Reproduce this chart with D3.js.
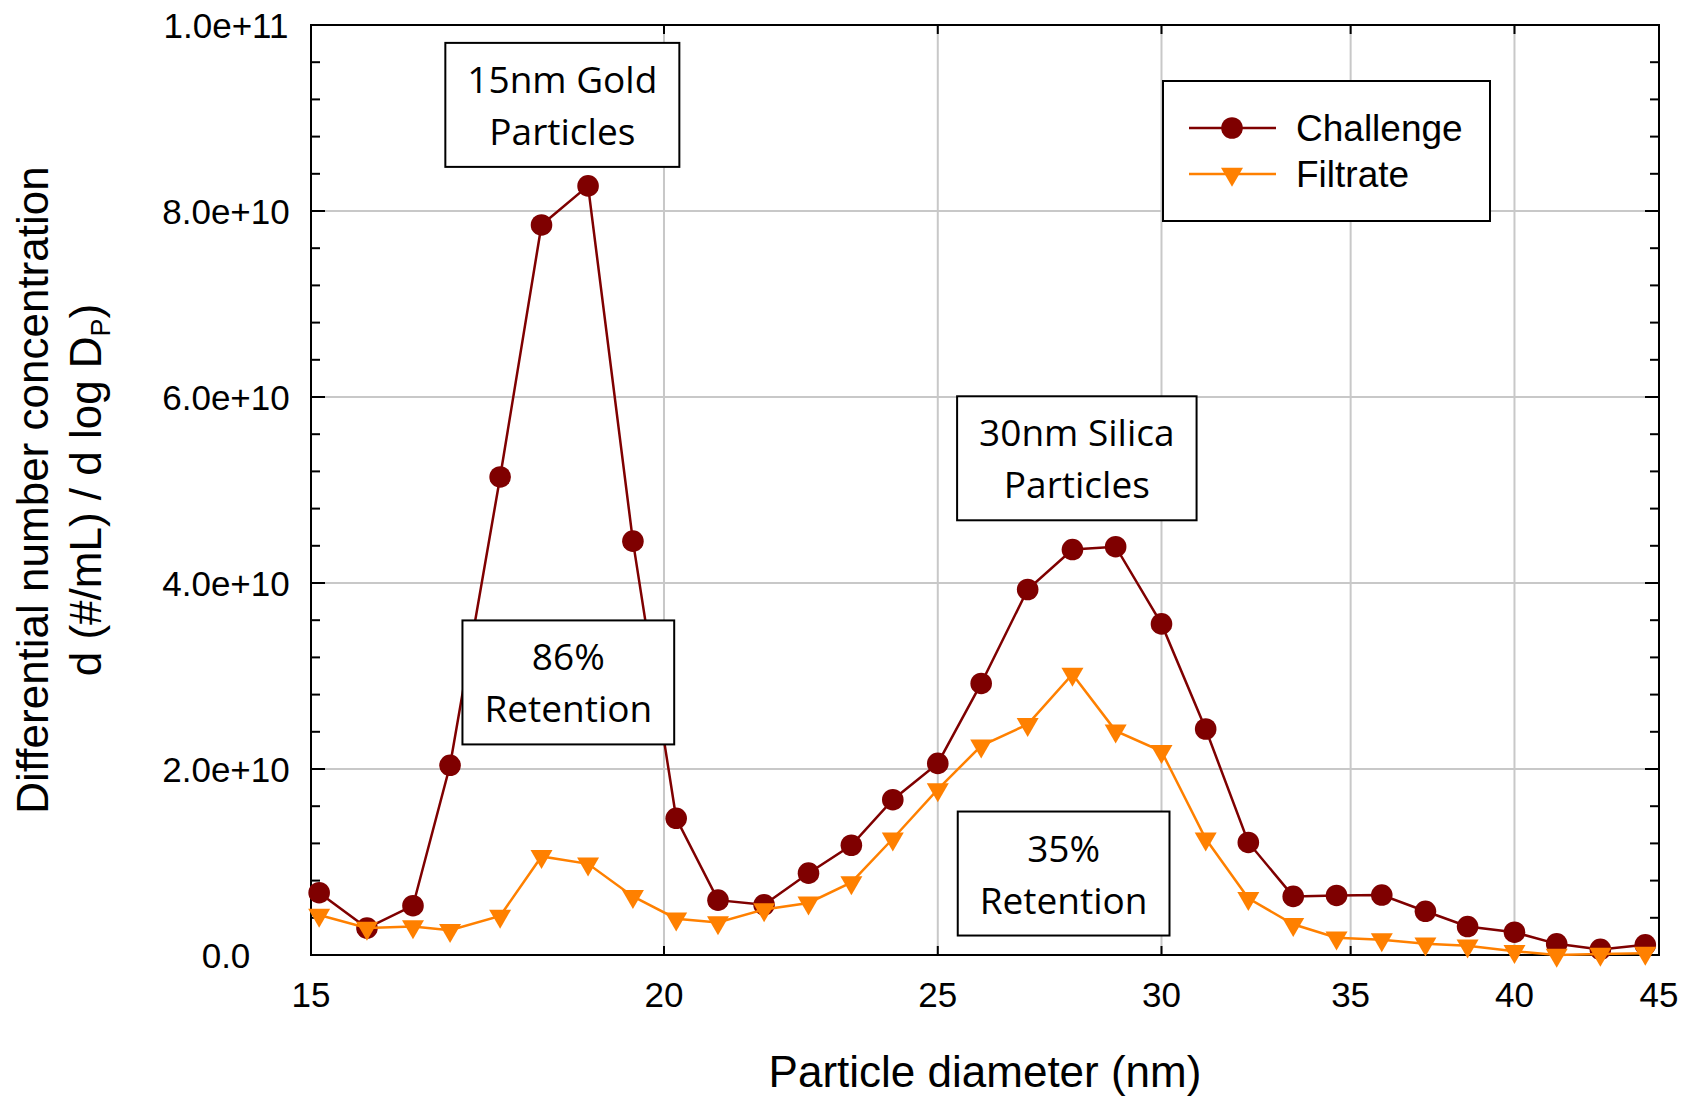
<!DOCTYPE html>
<html>
<head>
<meta charset="utf-8">
<script src="https://cdn.jsdelivr.net/npm/d3@7"></script>
<style>
  body { margin: 0; background: #fff; }
  svg { display: block; }
</style>
</head>
<body>
<div id="chart"></div>
<script>
// particle diameter channels (nm)
var diameters = [15.1, 15.7, 16.3, 16.8, 17.5, 18.1, 18.8, 19.5, 20.2, 20.9, 21.7, 22.5, 23.3, 24.1, 25.0,
  25.9, 26.9, 27.9, 28.9, 30.0, 31.1, 32.2, 33.4, 34.6, 35.9, 37.2, 38.5, 40.0, 41.4, 42.9, 44.5];
// dN/dlogDp, #/mL
var challenge = [6.7e9, 2.9e9, 5.3e9, 2.04e10, 5.14e10, 7.85e10, 8.27e10, 4.45e10, 1.47e10, 5.9e9, 5.4e9,
  8.8e9, 1.18e10, 1.67e10, 2.06e10, 2.92e10, 3.93e10, 4.36e10, 4.39e10, 3.56e10, 2.43e10, 1.21e10,
  6.3e9, 6.4e9, 6.45e9, 4.7e9, 3.06e9, 2.45e9, 1.2e9, 0.6e9, 1.1e9];
var filtrate = [4.3e9, 2.9e9, 3.06e9, 2.66e9, 4.2e9, 1.06e10, 9.8e9, 6.3e9, 3.9e9, 3.5e9, 4.9e9,
  5.6e9, 7.8e9, 1.25e10, 1.78e10, 2.25e10, 2.48e10, 3.02e10, 2.41e10, 2.19e10, 1.25e10, 6.1e9,
  3.3e9, 1.85e9, 1.65e9, 1.2e9, 1.0e9, 0.4e9, 0.0, 0.1e9, 0.2e9];
var xTicks = [15, 20, 25, 30, 35, 40, 45];
var yTicks = [0, 2e10, 4e10, 6e10, 8e10, 1e11];
var yTickLabels = ['0.0', '2.0e+10', '4.0e+10', '6.0e+10', '8.0e+10', '1.0e+11'];
var notes = [
  { x: 18.41, y: 9.27e10, lines: ['15nm Gold', 'Particles'] },
  { x: 28.0, y: 5.47e10, lines: ['30nm Silica', 'Particles'] },
  { x: 18.5, y: 3.06e10, lines: ['86%', 'Retention'] },
  { x: 27.7, y: 1.005e10, lines: ['35%', 'Retention'] }
];

var width = 1688, height = 1097;
var margin = { top: 25, right: 29, bottom: 142, left: 311 };

var svg = d3.select('#chart').append('svg')
  .attr('width', width)
  .attr('height', height);

var x = d3.scaleLog()
  .domain([15, 45])
  .range([margin.left, width - margin.right]);
var y = d3.scaleLinear()
  .domain([0, 1e11])
  .range([height - margin.bottom, margin.top]);

var x0 = x.range()[0], x1 = x.range()[1];
var y0 = y.range()[0], y1 = y.range()[1];

// grid
svg.append('g').selectAll('line')
  .data(xTicks.slice(1, -1))
  .enter().append('line')
  .attr('x1', function (d) { return x(d); })
  .attr('x2', function (d) { return x(d); })
  .attr('y1', y0).attr('y2', y1)
  .attr('stroke', '#c8c8c8').attr('stroke-width', 2);
svg.append('g').selectAll('line')
  .data(yTicks.slice(1, -1))
  .enter().append('line')
  .attr('y1', function (d) { return y(d); })
  .attr('y2', function (d) { return y(d); })
  .attr('x1', x0).attr('x2', x1)
  .attr('stroke', '#c8c8c8').attr('stroke-width', 2);

// inner ticks
var minor = d3.range(0, 1e11 + 1, 4e9);
[x0, x1].forEach(function (xx, i) {
  var dir = i === 0 ? 1 : -1;
  svg.append('g').selectAll('line')
    .data(minor)
    .enter().append('line')
    .attr('x1', xx)
    .attr('x2', function (d) { return xx + dir * (d % 2e10 === 0 ? 14 : 9); })
    .attr('y1', function (d) { return y(d); })
    .attr('y2', function (d) { return y(d); })
    .attr('stroke', '#000').attr('stroke-width', 2);
});
[y0, y1].forEach(function (yy, i) {
  var dir = i === 0 ? -1 : 1;
  svg.append('g').selectAll('line')
    .data(xTicks.slice(1, -1))
    .enter().append('line')
    .attr('x1', function (d) { return x(d); })
    .attr('x2', function (d) { return x(d); })
    .attr('y1', yy).attr('y2', yy + dir * 9)
    .attr('stroke', '#000').attr('stroke-width', 2);
});

svg.append('rect')
  .attr('x', x0).attr('y', y1)
  .attr('width', x1 - x0).attr('height', y0 - y1)
  .attr('fill', 'none')
  .attr('stroke', '#000').attr('stroke-width', 2);

// tick labels
svg.append('g').selectAll('text')
  .data(yTicks)
  .enter().append('text')
  .attr('x', 226)
  .attr('y', function (d) { return y(d); })
  .attr('dy', '0.36em')
  .attr('text-anchor', 'middle')
  .style('font', '35px "Liberation Sans", Arial, sans-serif')
  .text(function (d, i) { return yTickLabels[i]; });
svg.append('g').selectAll('text')
  .data(xTicks)
  .enter().append('text')
  .attr('x', function (d) { return x(d); })
  .attr('y', y0 + 52)
  .attr('text-anchor', 'middle')
  .style('font', '35px "Liberation Sans", Arial, sans-serif')
  .text(function (d) { return d; });

// axis titles
svg.append('text')
  .attr('x', (x0 + x1) / 2)
  .attr('y', 1087)
  .attr('text-anchor', 'middle')
  .style('font', '44px "Liberation Sans", Arial, sans-serif')
  .text('Particle diameter (nm)');

var yTitle = svg.append('text')
  .attr('transform', 'translate(48,' + ((y0 + y1) / 2) + ') rotate(-90)')
  .attr('text-anchor', 'middle')
  .style('font', '44px "Liberation Sans", Arial, sans-serif');
yTitle.append('tspan').attr('x', 0).attr('y', 0).text('Differential number concentration');
var l2 = yTitle.append('tspan').attr('x', 0).attr('y', 53);
l2.append('tspan').text('d (#/mL) / d log D');
l2.append('tspan').attr('dy', 9).style('font-size', '27px').text('P');
l2.append('tspan').attr('dy', -9).text(')');

// series
var series = [
  { name: 'Challenge', values: challenge, color: '#7f0000', shape: 'circle' },
  { name: 'Filtrate', values: filtrate, color: '#ff8000', shape: 'triangle' }
];
var tri = 'M-11,-6.3L11,-6.3L0,12.7Z';

var line = d3.line()
  .x(function (d) { return x(d[0]); })
  .y(function (d) { return y(d[1]); });

series.forEach(function (s) {
  var pts = diameters.map(function (d, i) { return [d, s.values[i]]; });
  svg.append('path')
    .datum(pts)
    .attr('d', line)
    .attr('fill', 'none')
    .attr('stroke', s.color)
    .attr('stroke-width', 2.5);
  var g = svg.append('g');
  if (s.shape === 'circle') {
    g.selectAll('circle').data(pts).enter().append('circle')
      .attr('cx', function (d) { return x(d[0]); })
      .attr('cy', function (d) { return y(d[1]); })
      .attr('r', 10.8)
      .attr('fill', s.color);
  } else {
    g.selectAll('path').data(pts).enter().append('path')
      .attr('transform', function (d) { return 'translate(' + x(d[0]) + ',' + y(d[1]) + ')'; })
      .attr('d', tri)
      .attr('fill', s.color);
  }
});

// annotation boxes
notes.forEach(function (n) {
  var g = svg.append('g');
  var t = g.append('text')
    .attr('text-anchor', 'middle')
    .style('font', '37px "Open Sans", sans-serif');
  n.lines.forEach(function (ln, i) {
    t.append('tspan')
      .attr('x', x(n.x))
      .attr('y', y(n.y) + i * 52)
      .text(ln);
  });
  var bb = t.node().getBBox();
  g.insert('rect', 'text')
    .attr('x', bb.x - 22).attr('y', y(n.y) - 50)
    .attr('width', bb.width + 44).attr('height', 124)
    .attr('fill', '#fff')
    .attr('stroke', '#000').attr('stroke-width', 2);
});

// legend
var leg = svg.append('g').attr('transform', 'translate(1163,81)');
leg.append('rect')
  .attr('width', 327).attr('height', 140)
  .attr('fill', '#fff')
  .attr('stroke', '#000').attr('stroke-width', 2);
series.forEach(function (s, i) {
  var ly = 47 + i * 46;
  leg.append('line')
    .attr('x1', 26).attr('x2', 113)
    .attr('y1', ly).attr('y2', ly)
    .attr('stroke', s.color).attr('stroke-width', 2.5);
  if (s.shape === 'circle') {
    leg.append('circle').attr('cx', 69).attr('cy', ly).attr('r', 10.8).attr('fill', s.color);
  } else {
    leg.append('path').attr('transform', 'translate(69,' + ly + ')').attr('d', tri).attr('fill', s.color);
  }
  leg.append('text')
    .attr('x', 133).attr('y', ly)
    .attr('dy', '0.36em')
    .style('font', '37px "Liberation Sans", Arial, sans-serif')
    .text(s.name);
});
</script>
</body>
</html>
